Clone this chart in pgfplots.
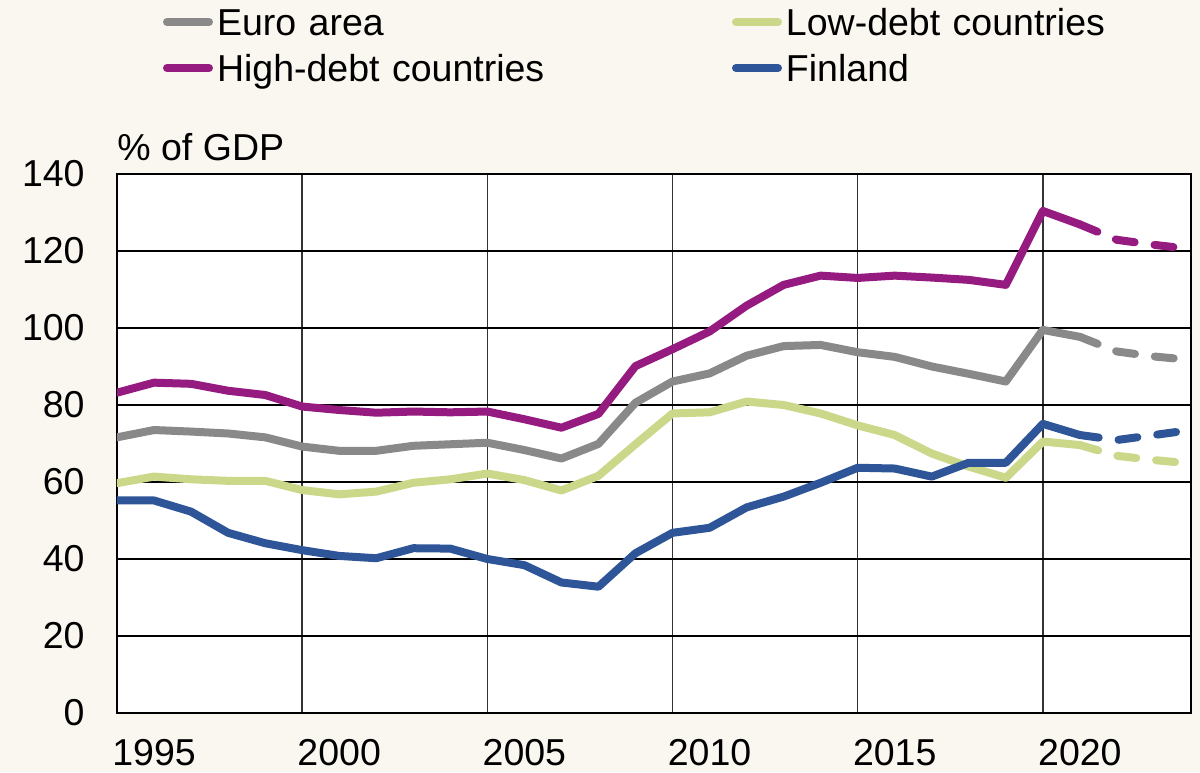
\documentclass[border=0pt]{standalone}
\usepackage{fontspec}
\setmainfont{Liberation Sans}
\usepackage{pgfplots}
\usepackage{pgfplotstable}
\pgfplotsset{compat=1.18}
\definecolor{bgc}{HTML}{FAF6F0}
\definecolor{cEuro}{HTML}{898989}
\definecolor{cHigh}{HTML}{951B81}
\definecolor{cLow}{HTML}{CBD88A}
\definecolor{cFin}{HTML}{2E5597}
\newcommand{\fs}{\fontsize{18.75}{22.5}\selectfont}
\pgfplotstableread{
year euro low high fin
1995 71.6 59.7 83.2 55.2
1996 73.5 61.4 85.8 55.2
1997 73.1 60.7 85.5 52.3
1998 72.6 60.3 83.7 46.8
1999 71.6 60.3 82.6 44.1
2000 69.2 57.9 79.6 42.3
2001 68.1 56.8 78.7 40.8
2002 68.1 57.5 78.0 40.2
2003 69.4 59.8 78.3 42.8
2004 69.8 60.7 78.1 42.7
2005 70.2 62.2 78.3 40.0
2006 68.3 60.5 76.3 38.4
2007 66.1 57.8 74.1 33.9
2008 69.9 61.6 77.7 32.8
2009 80.6 69.8 90.1 41.5
2010 86.1 77.8 94.5 46.8
2011 88.2 78.1 99.1 48.1
2012 92.8 80.9 105.8 53.4
2013 95.3 80.0 111.2 56.2
2014 95.6 77.8 113.6 59.8
2015 93.7 74.7 113.0 63.7
2016 92.5 72.2 113.6 63.5
2017 90.0 67.4 113.1 61.4
2018 88.1 64.0 112.5 65.0
2019 86.1 61.1 111.2 65.0
2020 99.5 70.5 130.4 75.1
2021 97.7 69.6 126.9 72.2
2022 93.9 66.8 122.9 70.9
2023 92.6 65.7 121.6 72.2
2024 91.7 64.8 120.5 73.5
}\debt
\begin{document}
\begin{tikzpicture}
\path[use as bounding box] (0,0) rectangle (600pt,386pt);
\fill[bgc] (0,0) rectangle (600pt,386pt);
\begin{axis}[
 at={(58.5pt,29.5pt)}, anchor=south west, scale only axis,
 width=537pt, height=269.5pt,
 xmin=1995, xmax=2024, ymin=0, ymax=140,
 ytick={0,20,...,140},
 xtick={2000,2005,...,2020}, xticklabels={},
 extra x ticks={1996,2001,2006,2011,2016,2021},
 extra x tick labels={1995,2000,2005,2010,2015,2020},
 extra x tick style={grid=none, major tick length=0pt},
 major tick length=0pt,
 xmajorgrids, ymajorgrids,
 x grid style={line width=0.8pt, color=black!80},
 y grid style={line width=0.7pt, color=black},
 axis line style={line width=1.3pt, black},
 axis background/.style={fill=white},
 tick label style={font=\fs, text=black},
 /pgf/number format/assume math mode=true,
 /pgf/number format/1000 sep={},
 yticklabel style={inner sep=0pt, anchor=east, xshift=-16pt},
 xticklabel style={inner sep=0pt, anchor=north, yshift=-13pt},
 legend columns=2,
 legend cell align=left,
 legend style={at={(0.04283,1.3071)}, anchor=north west, draw=none, fill=none,
   inner sep=0pt, outer sep=0pt, font=\fs, column sep=0pt, row sep=5.5pt,
   cells={anchor=base west},
   nodes={inner sep=0pt, text height=13.5pt, text depth=4pt},
   /tikz/every odd column/.style={column sep=2pt},
   /tikz/every even column/.style={text width=257.5pt}},
 legend image code/.code={\path[draw=none, fill=none] (0pt,0pt) -- (25pt,0pt);
   \draw[#1, solid, line width=4pt, line cap=round] (2pt,6.75pt) -- (23pt,6.75pt);},
 every axis plot/.append style={line width=4pt, line join=round, line cap=round},
]
\addplot[cEuro, restrict x to domain=1995:2021] table[x=year, y=euro] {\debt};
\addlegendentry{Euro area}
\addplot[cLow, restrict x to domain=1995:2021] table[x=year, y=low] {\debt};
\addlegendentry{Low-debt countries}
\addplot[cHigh, restrict x to domain=1995:2021] table[x=year, y=high] {\debt};
\addlegendentry{High-debt countries}
\addplot[cFin, restrict x to domain=1995:2021] table[x=year, y=fin] {\debt};
\addlegendentry{Finland}
\addplot[cEuro, dash pattern=on 9.5pt off 10pt, forget plot, restrict x to domain=2021:2024] table[x=year, y=euro] {\debt};
\addplot[cLow, dash pattern=on 9.5pt off 10pt, forget plot, restrict x to domain=2021:2024] table[x=year, y=low] {\debt};
\addplot[cHigh, dash pattern=on 9.5pt off 10pt, forget plot, restrict x to domain=2021:2024] table[x=year, y=high] {\debt};
\addplot[cFin, dash pattern=on 9.5pt off 10pt, forget plot, restrict x to domain=2021:2024] table[x=year, y=fin] {\debt};
\end{axis}
\node[anchor=base west, inner sep=0pt, font=\fs] at (58.5pt,305.5pt) {\% of GDP};
\end{tikzpicture}
\end{document}
